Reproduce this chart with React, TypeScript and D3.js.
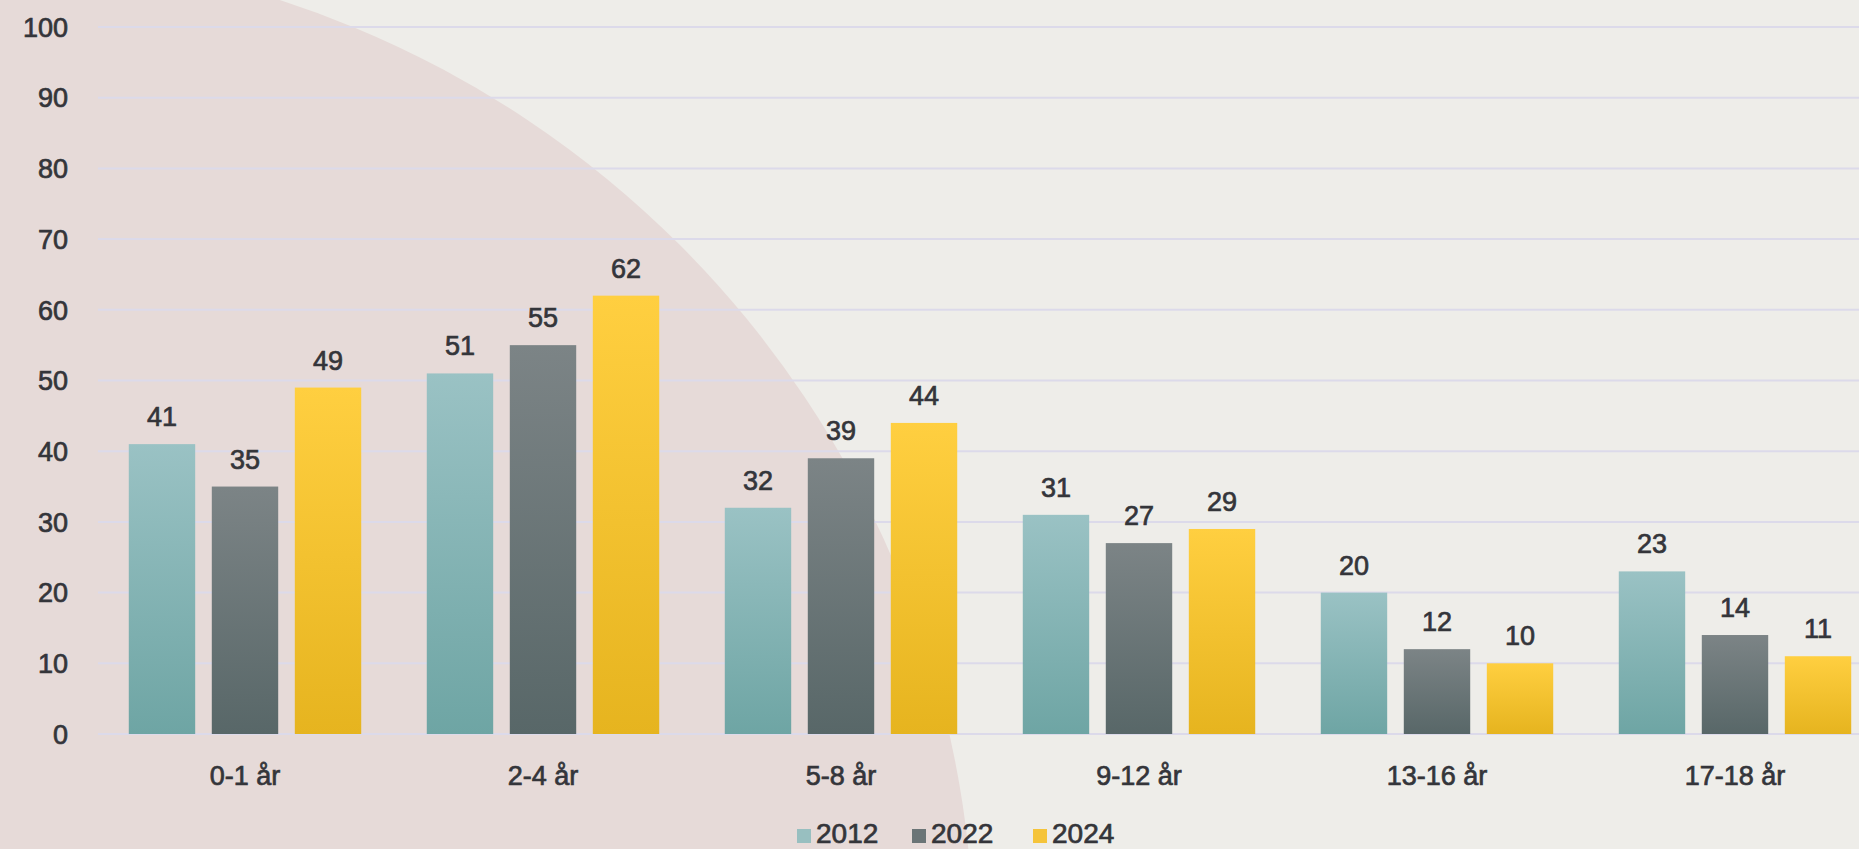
import React from 'react';
import * as d3 from 'd3';

const categories = ['0-1 år', '2-4 år', '5-8 år', '9-12 år', '13-16 år', '17-18 år'];
const seriesNames = ['2012', '2022', '2024'];
const values2012 = [41, 51, 32, 31, 20, 23];
const values2022 = [35, 55, 39, 27, 12, 14];
const values2024 = [49, 62, 44, 29, 10, 11];
const yTicks = [0, 10, 20, 30, 40, 50, 60, 70, 80, 90, 100];

const W = 1859;
const H = 849;
const FONT = '"Liberation Sans", Arial, Helvetica, sans-serif';
const TEXT = '#34353a';

// top / bottom stops of the bar gradients
const gradients: Record<string, [string, string]> = {
  '2012': ['#9ac2c4', '#6ea5a4'],
  '2022': ['#7c8486', '#586768'],
  '2024': ['#ffcf40', '#e6b41f'],
};
const legendColors: Record<string, string> = {
  '2012': '#98bfc0',
  '2022': '#6b7577',
  '2024': '#f5c43a',
};

export default function App() {
  const series = [values2012, values2022, values2024];

  const x0 = d3.scaleBand<string>()
    .domain(categories)
    .range([96, 1884])
    .paddingInner(0.22)
    .paddingOuter(0.11);
  const x1 = d3.scaleBand<string>()
    .domain(seriesNames)
    .range([0, x0.bandwidth()])
    .paddingInner(0.2);
  const y = d3.scaleLinear().domain([0, 100]).range([734, 27]);

  const legendX = [797, 912, 1033];

  // slightly heavier than regular, like the blurred source text
  const textProps = { fill: TEXT, stroke: TEXT, strokeWidth: 0.7 };

  return (
    <svg width={W} height={H} style={{ position: 'absolute', left: 0, top: 0 }} fontFamily={FONT}>
      <defs>
        {seriesNames.map(s => (
          <linearGradient key={s} id={`g${s}`} x1="0" y1="0" x2="0" y2="1">
            <stop offset="0%" stopColor={gradients[s][0]} />
            <stop offset="100%" stopColor={gradients[s][1]} />
          </linearGradient>
        ))}
      </defs>

      {/* background */}
      <rect x={0} y={0} width={W} height={H} fill="#eeede9" />
      <circle cx={-30} cy={955} r={1004} fill="#e6dad8" />

      {/* gridlines */}
      <g>
        {yTicks.map(t => (
          <line key={t} x1={98} x2={1884} y1={y(t)} y2={y(t)} stroke="#dcdaea" strokeWidth={2} />
        ))}
      </g>

      {/* y tick labels */}
      <g fontSize={27} textAnchor="end" {...textProps}>
        {yTicks.map(t => (
          <text key={t} x={68} y={y(t)} dy="0.36em">{t}</text>
        ))}
      </g>

      {/* bars */}
      {categories.map((c, i) => (
        <g key={c} transform={`translate(${x0(c)},0)`}>
          {seriesNames.map((s, j) => {
            const v = series[j][i];
            const bx = x1(s)!;
            return (
              <g key={s}>
                <rect x={bx} y={y(v)} width={x1.bandwidth()} height={y(0) - y(v)} fill={`url(#g${s})`} />
                <text x={bx + x1.bandwidth() / 2} y={y(v) - 18} textAnchor="middle" fontSize={27} {...textProps}>{v}</text>
              </g>
            );
          })}
          <text x={x0.bandwidth() / 2} y={785} textAnchor="middle" fontSize={27} {...textProps}>{c}</text>
        </g>
      ))}

      {/* legend */}
      <g fontSize={28} {...textProps}>
        {seriesNames.map((s, j) => (
          <g key={s}>
            <rect x={legendX[j]} y={829} width={14} height={14} fill={legendColors[s]} stroke="none" />
            <text x={legendX[j] + 19} y={843}>{s}</text>
          </g>
        ))}
      </g>
    </svg>
  );
}
